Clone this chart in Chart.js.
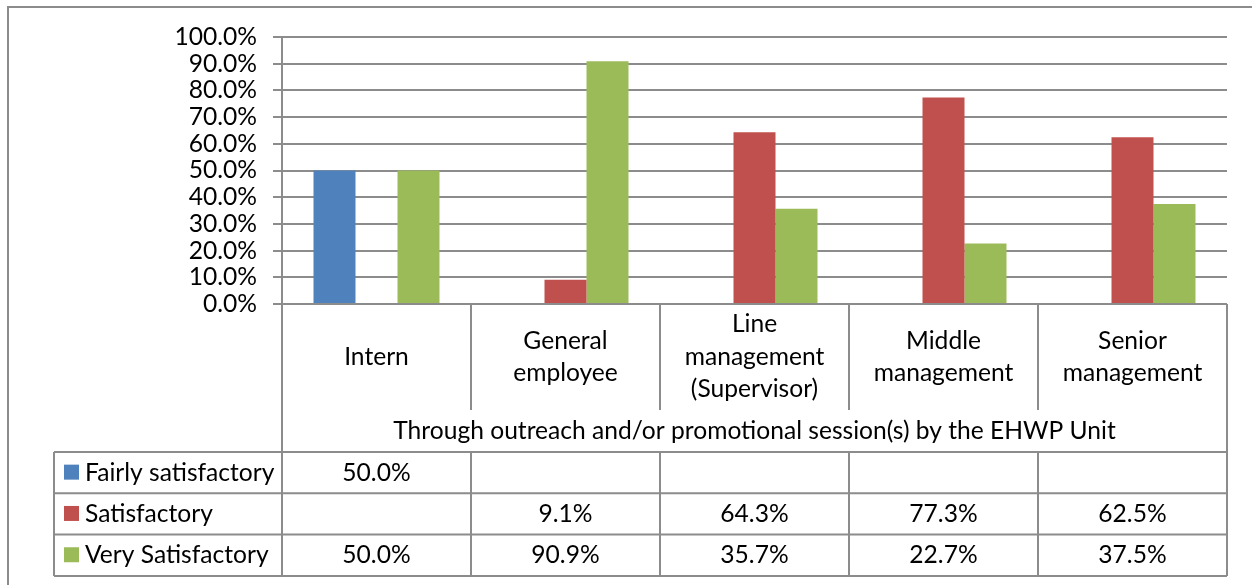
<!DOCTYPE html>
<html>
<head>
<meta charset="utf-8">
<script src="https://cdn.jsdelivr.net/npm/chart.js@4"></script>
<style>
  html, body { margin: 0; padding: 0; background: #fff; overflow: hidden; }
  #wrap { width: 1252px; height: 585px; position: relative; }
</style>
</head>
<body>
<div id="wrap"><canvas id="chart"></canvas></div>
<script>
// ---- data ----
const categories = [
    ['Intern'],
    ['General', 'employee'],
    ['Line', 'management', '(Supervisor)'],
    ['Middle', 'management'],
    ['Senior', 'management']
];
const groupTitle = 'Through outreach and/or promotional session(s) by the EHWP Unit';
const seriesNames = ['Fairly satisfactory', 'Satisfactory', 'Very Satisfactory'];
const fairlySatisfactory = [50.0, null, null, null, null];
const satisfactory = [null, 9.1, 64.3, 77.3, 62.5];
const verySatisfactory = [50.0, 90.9, 35.7, 22.7, 37.5];
const seriesColors = ['#4F81BD', '#C0504D', '#9BBB59'];
const yTicks = [0, 10, 20, 30, 40, 50, 60, 70, 80, 90, 100];

const FONT = '"Lato", "Open Sans", sans-serif';
const FONT_SIZE = 24.6;
const LINE = '#8c8c8c';

// draws the frame and the data table under the plot
const tablePlugin = {
    id: 'dataTable',
    beforeDraw(chart) {
        const c = chart.ctx;
        c.save();
        c.strokeStyle = LINE;
        c.lineWidth = 2;
        c.beginPath();
        c.moveTo(8, 600); c.lineTo(8, 7); c.lineTo(1260, 7);
        c.stroke();
        c.restore();
    },
    afterDraw(chart) {
        const c = chart.ctx;
        const area = chart.chartArea;
        const x = chart.scales.x;
        const n = categories.length;
        const cw = (area.right - area.left) / n;
        const top = area.bottom;
        const labelBottom = top + 106;
        const titleBottom = labelBottom + 42;
        const rowH = 41.3;
        const tableBottom = titleBottom + rowH * 3;
        const legendLeft = 54;

        c.save();
        c.strokeStyle = LINE;
        c.lineWidth = 2;
        c.beginPath();
        // outer verticals
        c.moveTo(area.left, top); c.lineTo(area.left, tableBottom);
        c.moveTo(area.right, top); c.lineTo(area.right, tableBottom);
        // inner dividers (skip the title row)
        for (let i = 1; i < n; i++) {
            const xx = area.left + cw * i;
            c.moveTo(xx, top); c.lineTo(xx, labelBottom);
            c.moveTo(xx, titleBottom); c.lineTo(xx, tableBottom);
        }
        // horizontal rows
        for (let r = 0; r <= 3; r++) {
            const yy = titleBottom + rowH * r;
            c.moveTo(legendLeft, yy); c.lineTo(area.right, yy);
        }
        c.moveTo(legendLeft, titleBottom); c.lineTo(legendLeft, tableBottom);
        c.stroke();

        c.fillStyle = '#000';
        c.font = FONT_SIZE + 'px ' + FONT;
        c.textAlign = 'center';
        c.textBaseline = 'middle';

        // category labels
        categories.forEach((lines, i) => {
            const cx = x.getPixelForValue(i);
            const lh = 32.5;
            const cy = (top + labelBottom) / 2 - (lines.length - 1) * lh / 2;
            lines.forEach((t, k) => c.fillText(t, cx, cy + k * lh));
        });
        c.fillText(groupTitle, (area.left + area.right) / 2, (labelBottom + titleBottom) / 2);

        // rows
        const rows = [fairlySatisfactory, satisfactory, verySatisfactory];
        rows.forEach((vals, r) => {
            const cy = titleBottom + rowH * r + rowH / 2;
            vals.forEach((v, i) => {
                if (v === null) return;
                c.textAlign = 'center';
                c.fillText(v.toFixed(1) + '%', x.getPixelForValue(i), cy);
            });
            c.fillStyle = seriesColors[r];
            c.fillRect(64, cy - 8, 15, 15);
            c.fillStyle = '#000';
            c.textAlign = 'left';
            c.fillText(seriesNames[r], 85, cy);
        });
        c.restore();
    }
};

new Chart(document.getElementById('chart'), {
    type: 'bar',
    data: {
        labels: categories.map(l => l.join(' ')),
        datasets: [
            { label: seriesNames[0], data: fairlySatisfactory, backgroundColor: seriesColors[0] },
            { label: seriesNames[1], data: satisfactory, backgroundColor: seriesColors[1] },
            { label: seriesNames[2], data: verySatisfactory, backgroundColor: seriesColors[2] }
        ]
    },
    options: {
        responsive: true, maintainAspectRatio: false, animation: false,
        layout: { padding: { left: 0, top: 37, right: 25, bottom: 281 } },
        datasets: { bar: { categoryPercentage: 2 / 3, barPercentage: 1 } },
        plugins: { legend: { display: false }, tooltip: { enabled: false } },
        scales: {
            x: { display: false },
            y: {
                min: 0, max: 100,
                afterFit: s => { s.width = 282; },
                afterBuildTicks: s => { s.ticks = yTicks.map(v => ({ value: v })); },
                border: { display: true, color: LINE, width: 2 },
                grid: { color: LINE, lineWidth: 2, tickLength: 9 },
                ticks: {
                    color: '#000', padding: 16, autoSkip: false,
                    font: { family: FONT, size: FONT_SIZE },
                    callback: v => v.toFixed(1) + '%'
                }
            }
        }
    },
    plugins: [tablePlugin]
});
</script>
</body>
</html>
